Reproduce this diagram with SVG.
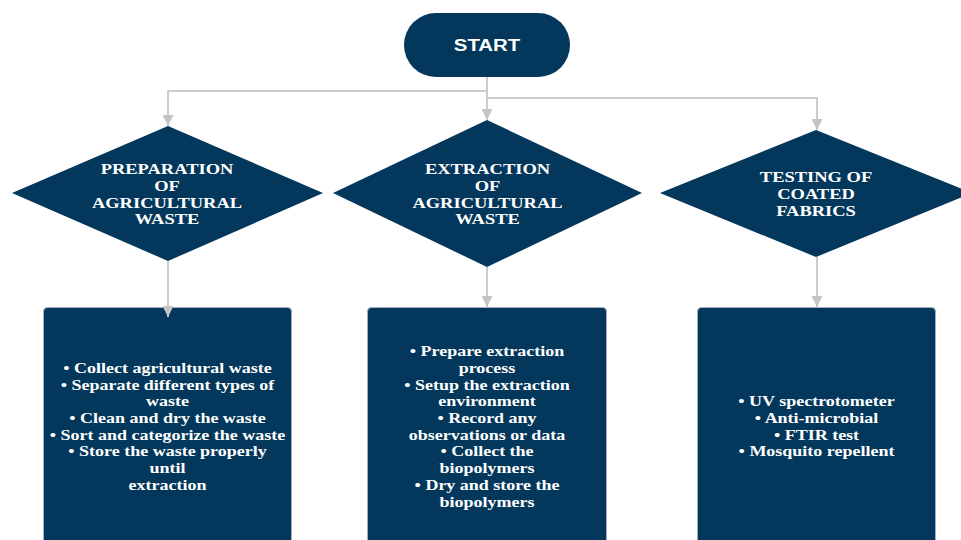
<svg xmlns="http://www.w3.org/2000/svg" width="961" height="540" viewBox="0 0 961 540">
  <style>
    .shape { fill: #03375b; }
    .box { fill: #03375b; stroke: #9fb0c0; stroke-width: 1; }
    .wire { fill: none; stroke: #cccccc; stroke-width: 2; }
    .title { font-family: "Liberation Serif", "Times New Roman", serif; font-weight: bold; font-size: 15.4px; fill: #ffffff; text-anchor: middle; }
    .body { font-family: "Liberation Serif", "Times New Roman", serif; font-weight: bold; font-size: 15px; fill: #ffffff; text-anchor: middle; }
    .start { font-family: "Liberation Sans", Arial, sans-serif; font-weight: bold; font-size: 17px; fill: #ffffff; text-anchor: middle; }
  </style>
  <defs>
    <marker id="arrow" viewBox="0 0 10 10" refX="10" refY="5" markerWidth="5.5" markerHeight="5.5" orient="auto" markerUnits="strokeWidth">
      <path d="M0,0 L10,5 L0,10 Z" fill="#c4c4c4"/>
    </marker>
  </defs>
  <rect width="961" height="540" fill="#ffffff"/>

  <!-- Start terminal -->
  <g id="start">
    <rect class="shape" x="404" y="13" width="166" height="64" rx="32" ry="32"/>
    <g transform="translate(487 0) scale(1.2 1)">
      <text class="start" x="0" y="51">START</text>
    </g>
  </g>

  <!-- Decision: preparation -->
  <g id="preparation">
    <polygon class="shape" points="168,126 323,193 168,261 12,193"/>
    <g transform="translate(167 0) scale(1.2 1)">
      <text class="title" x="0" y="174.5">PREPARATION</text>
      <text class="title" x="0" y="191">OF</text>
      <text class="title" x="0" y="207.7">AGRICULTURAL</text>
      <text class="title" x="0" y="224.3">WASTE</text>
    </g>
  </g>

  <!-- Decision: extraction -->
  <g id="extraction">
    <polygon class="shape" points="487,120 642,193 487,267 333,193"/>
    <g transform="translate(487.5 0) scale(1.2 1)">
      <text class="title" x="0" y="174.5">EXTRACTION</text>
      <text class="title" x="0" y="191">OF</text>
      <text class="title" x="0" y="207.7">AGRICULTURAL</text>
      <text class="title" x="0" y="224.3">WASTE</text>
    </g>
  </g>

  <!-- Decision: testing -->
  <g id="testing">
    <polygon class="shape" points="816,130 972,193 816,257 660,193"/>
    <g transform="translate(816 0) scale(1.2 1)">
      <text class="title" x="0" y="181.7">TESTING OF</text>
      <text class="title" x="0" y="199.3">COATED</text>
      <text class="title" x="0" y="215.7">FABRICS</text>
    </g>
  </g>

  <!-- Step list: preparation -->
  <g id="prep-steps">
    <rect class="box" x="43.5" y="307.5" width="248" height="250" rx="4" ry="4"/>
    <g transform="translate(167.5 0) scale(1.2 1)">
      <text class="body" x="0" y="373">• Collect agricultural waste</text>
      <text class="body" x="0" y="389.7">• Separate different types of</text>
      <text class="body" x="0" y="406.4">waste</text>
      <text class="body" x="0" y="423.1">• Clean and dry the waste</text>
      <text class="body" x="0" y="439.8">• Sort and categorize the waste</text>
      <text class="body" x="0" y="456.5">• Store the waste properly</text>
      <text class="body" x="0" y="473.2">until</text>
      <text class="body" x="0" y="489.9">extraction</text>
    </g>
  </g>

  <!-- Step list: extraction -->
  <g id="extract-steps">
    <rect class="box" x="367.5" y="307.5" width="239" height="250" rx="4" ry="4"/>
    <g transform="translate(487 0) scale(1.2 1)">
      <text class="body" x="0" y="356.3">• Prepare extraction</text>
      <text class="body" x="0" y="373">process</text>
      <text class="body" x="0" y="389.7">• Setup the extraction</text>
      <text class="body" x="0" y="406.4">environment</text>
      <text class="body" x="0" y="423.1">• Record any</text>
      <text class="body" x="0" y="439.8">observations or data</text>
      <text class="body" x="0" y="456.5">• Collect the</text>
      <text class="body" x="0" y="473.2">biopolymers</text>
      <text class="body" x="0" y="489.9">• Dry and store the</text>
      <text class="body" x="0" y="506.6">biopolymers</text>
    </g>
  </g>

  <!-- Step list: testing -->
  <g id="test-steps">
    <rect class="box" x="697.5" y="307.5" width="238" height="250" rx="4" ry="4"/>
    <g transform="translate(816.5 0) scale(1.2 1)">
      <text class="body" x="0" y="406.4">• UV spectrotometer</text>
      <text class="body" x="0" y="423.1">• Anti-microbial</text>
      <text class="body" x="0" y="439.8">• FTIR test</text>
      <text class="body" x="0" y="456.5">• Mosquito repellent</text>
    </g>
  </g>

  <!-- Connectors -->
  <g id="connectors">
    <path class="wire" d="M487,77 V120" marker-end="url(#arrow)"/>
    <path class="wire" d="M487,91 H168 V126" marker-end="url(#arrow)"/>
    <path class="wire" d="M487,98 H817 V130" marker-end="url(#arrow)"/>
    <path class="wire" d="M168,261 V317" marker-end="url(#arrow)"/>
    <path class="wire" d="M487,267 V307" marker-end="url(#arrow)"/>
    <path class="wire" d="M817,257 V307" marker-end="url(#arrow)"/>
  </g>
</svg>
